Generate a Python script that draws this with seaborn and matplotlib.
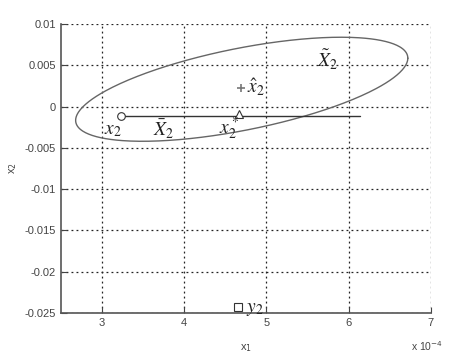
import numpy as np
import pandas as pd
import seaborn as sns
import matplotlib.pyplot as plt
from matplotlib.ticker import FuncFormatter

# Ellipse (X tilde): centre, half width in x1, half height in x2, phase
ell_center = (4.70e-4, 0.0021)
ell_half_x1 = 2.02e-4
ell_half_x2 = 0.0063
ell_phase = 0.93

# Segment x2 -> X bar
seg_x1 = [3.23e-4, 6.14e-4]
seg_x2 = [-0.0011, -0.0011]

# Points
pt_names = ['x2', 'x2_star', 'x2_hat', 'y2']
pt_x1 = [3.23e-4, 4.67e-4, 4.69e-4, 4.66e-4]
pt_x2 = [-0.0011, -0.0009, 0.0022, -0.0243]
pt_markers = ['o', '^', '+', 's']

# Labels
lab_text = [r'$x_2$', r'$\bar{X}_2$', r'$x_2^*$', r'$\hat{x}_2$', r'$\tilde{X}_2$', r'$y_2$']
lab_x1 = [3.02e-4, 3.62e-4, 4.42e-4, 4.77e-4, 5.62e-4, 4.75e-4]
lab_x2 = [-0.0029, -0.0028, -0.0026, 0.0024, 0.0056, -0.0246]

xticks = [3e-4, 4e-4, 5e-4, 6e-4, 7e-4]
yticks = [0.01, 0.005, 0, -0.005, -0.01, -0.015, -0.02, -0.025]

sns.set_style('ticks')
plt.rcParams['font.family'] = ['Liberation Sans', 'DejaVu Sans']

fig = plt.figure(figsize=(4.54, 3.64), dpi=100)
ax = fig.add_axes([0.134, 0.140, 0.815, 0.794])

t = np.linspace(0, 2 * np.pi, 361)
ell = pd.DataFrame({
    'x1': ell_center[0] + ell_half_x1 * np.cos(t),
    'x2': ell_center[1] + ell_half_x2 * np.cos(t - ell_phase),
})
sns.lineplot(data=ell, x='x1', y='x2', sort=False, estimator=None, color='#666666', lw=1.0, ax=ax)
sns.lineplot(x=seg_x1, y=seg_x2, sort=False, estimator=None, color='#333333', lw=1.0, ax=ax)

for x, y, m in zip(pt_x1, pt_x2, pt_markers):
    if m == '+':
        ax.plot(x, y, marker='+', color='#777777', ms=6, mew=1.2)
    else:
        ax.plot(x, y, marker=m, mfc='white', mec='#333333', ms=5.5, mew=0.8)

for s, x, y in zip(lab_text, lab_x1, lab_x2):
    ax.text(x, y, s, fontsize=14, math_fontfamily='stix', va='center', ha='left', color='#222222')

ax.set_xlim(2.5e-4, 7e-4)
ax.set_ylim(-0.025, 0.01)
ax.set_xticks(xticks)
ax.set_yticks(yticks)
ax.xaxis.set_major_formatter(FuncFormatter(lambda v, p: f'{v * 1e4:g}'))
ax.yaxis.set_major_formatter(FuncFormatter(lambda v, p: f'{v:g}'))
ax.grid(True, ls=(0, (1.5, 2.5)), color='#222222', lw=0.9)
ax.tick_params(direction='in', labelsize=8, colors='#444444', length=4)
for side in ['top', 'right']:
    ax.spines[side].set_visible(False)
for side in ['left', 'bottom']:
    ax.spines[side].set_color('#555555')
    ax.spines[side].set_linewidth(1.2)

ax.set_xlabel(r'x$_1$', fontsize=8, color='#444444', labelpad=10)
ax.set_ylabel(r'x$_2$', fontsize=8, color='#444444', labelpad=4)
fig.text(0.905, 0.035, r'x 10$^{-4}$', fontsize=7.5, color='#444444')

fig.savefig('out.png', dpi=100)
